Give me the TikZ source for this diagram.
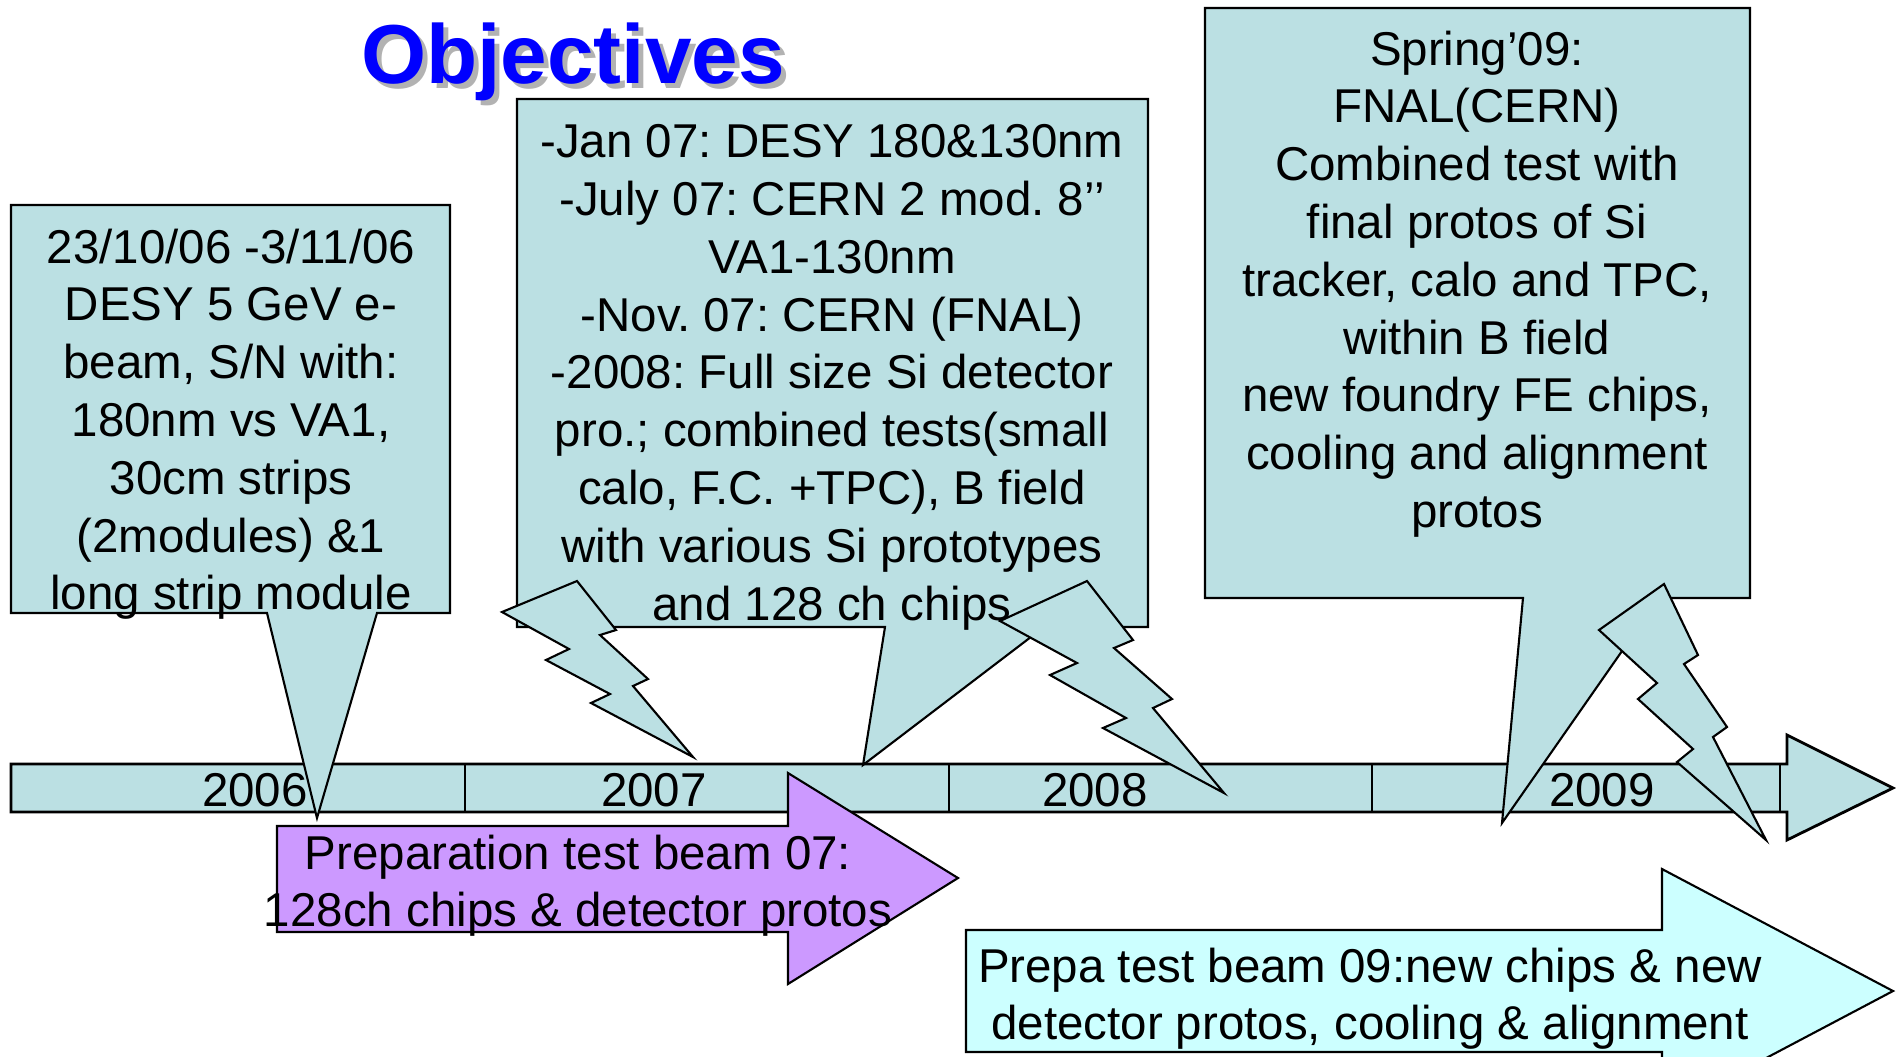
\documentclass[tikz,border=0pt]{standalone}
\usepackage{fontspec}
\setmainfont{Liberation Sans}
\frenchspacing

\definecolor{calloutfill}{RGB}{187,224,227}
\definecolor{prepfill}{RGB}{204,153,255}
\definecolor{nextfill}{RGB}{204,255,255}
\definecolor{titleblue}{RGB}{0,0,255}
\definecolor{shadowgray}{RGB}{178,178,178}

\begin{document}
\begin{tikzpicture}[
  x=0.01cm, y=-0.01cm,
  every node/.style={font=\fontsize{13.5}{16.43}\selectfont, inner sep=0pt},
  outline/.style={draw=black, line width=0.6pt},
  callout/.style={outline, fill=calloutfill},
  bolt/.style={outline, fill=calloutfill},
  txt/.style={anchor=north, align=center},
  yr/.style={anchor=base},
  headline/.style={anchor=base, font=\fontsize{23.8}{28}\selectfont\bfseries}
]
  \useasboundingbox (0,0) rectangle (1896,1056);

  % title
  \node[headline, text=shadowgray] (titleshadow) at (578,88) {Objectives};
  \node[headline, text=titleblue] (title) at (573,83) {Objectives};

  % time axis
  \draw[outline, line width=0.8pt, fill=calloutfill] (11,764) -- (1787,764) -- (1787,735) -- (1893,788)
    -- (1787,840) -- (1787,812) -- (11,812) -- cycle;
  \foreach \x in {465,949,1372,1780}
    \draw[outline] (\x,764) -- (\x,812);
  \node[yr] (y2006) at (255,806) {2006};
  \node[yr] (y2007) at (654,806) {2007};
  \node[yr] (y2008) at (1095,806) {2008};
  \node[yr] (y2009) at (1602,806) {2009};

  % callouts
  \draw[callout] (11,205) -- (450,205) -- (450,613) -- (377,613) -- (317,818) -- (267,613) -- (11,613) -- cycle;
  \node[txt] (desy06) at (231,228) {23/10/06 -3/11/06\\DESY 5 GeV e-\\beam, S/N with:\\180nm vs VA1,\\30cm strips\\(2modules) \&1\\long strip module};

  \draw[callout] (517,99) -- (1148,99) -- (1148,627) -- (1044,627) -- (863,765) -- (885,627) -- (517,627) -- cycle;
  \node[txt] (tests07) at (832,124) {-Jan 07: DESY 180\&130nm\\-July 07: CERN 2 mod. 8’’\\VA1-130nm\\-Nov. 07: CERN (FNAL)\\-2008: Full size Si detector\\pro.; combined tests(small\\calo, F.C. +TPC), B field\\with various Si prototypes\\and 128 ch chips};

  \draw[callout] (1205,8) -- (1750,8) -- (1750,598) -- (1659,598) -- (1502,823) -- (1523,598) -- (1205,598) -- cycle;
  \node[txt] (spring09) at (1477,30) {Spring’09:\\FNAL(CERN)\\Combined test with\\final protos of Si\\tracker, calo and TPC,\\within B field\\new foundry FE chips,\\cooling and alignment\\protos};

  % lightning marks
  \draw[bolt] (502,612) -- (577,581) -- (616,630) -- (600,635) -- (648,679) -- (633,686) -- (693,757)
    -- (591,703) -- (610,694) -- (546,660) -- (569,649) -- cycle;
  \draw[bolt] (1000,621) -- (1087,581) -- (1133,640) -- (1114,648) -- (1172,699) -- (1153,708) -- (1224,793)
    -- (1103,728) -- (1126,718) -- (1050,675) -- (1077,663) -- cycle;
  \draw[bolt] (1664,584) -- (1698,655) -- (1684,664) -- (1727,727) -- (1713,737) -- (1766,840)
    -- (1677,762) -- (1693,749) -- (1638,699) -- (1657,683) -- (1599,630) -- cycle;

  % preparation arrows
  \draw[outline, fill=prepfill] (277,826) -- (788,826) -- (788,773) -- (958,878) -- (788,984) -- (788,932) -- (277,932) -- cycle;
  \node[txt] (prep07) at (578,834) {Preparation test beam 07:\\128ch chips \& detector protos};

  \draw[outline, fill=nextfill] (966,930) -- (1662,930) -- (1662,869) -- (1893,991) -- (1662,1113) -- (1662,1052) -- (966,1052) -- cycle;
  \node[txt] (prep09) at (1370,947) {Prepa test beam 09:new chips \& new\\detector protos, cooling \& alignment};
\end{tikzpicture}
\end{document}
